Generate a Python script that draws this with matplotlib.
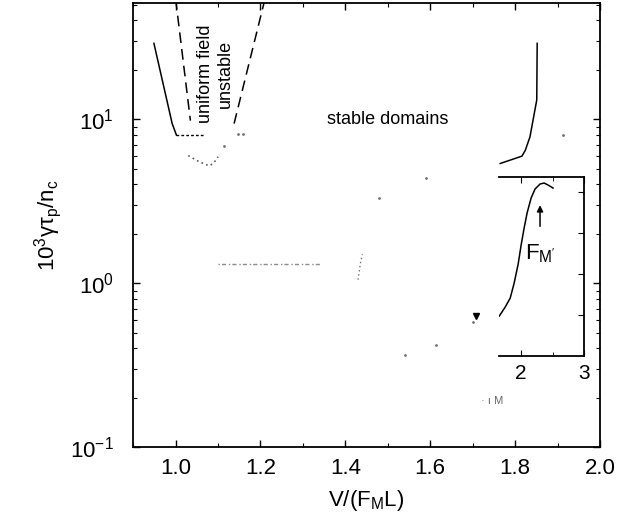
import matplotlib
matplotlib.use("Agg")
import matplotlib.pyplot as plt
from matplotlib.ticker import LogLocator, NullFormatter

plt.rcParams['font.family'] = ['Liberation Sans', 'DejaVu Sans']
plt.rcParams['mathtext.fontset'] = 'custom'
plt.rcParams['mathtext.rm'] = 'Liberation Sans'
plt.rcParams['mathtext.it'] = 'Liberation Sans:italic'
plt.rcParams['axes.unicode_minus'] = False

# main panel curves
left_solid_x = [0.949, 0.992, 1.002]
left_solid_y = [29.0, 9.4, 8.0]
flat_x = [1.002, 1.068]
flat_y = [8.0, 8.0]
dash_left_x = [0.998, 1.035]
dash_left_y = [60.0, 9.8]
dash_right_x = [1.215, 1.137]
dash_right_y = [60.0, 9.2]
right_solid_x = [1.765, 1.816, 1.824, 1.835, 1.851, 1.852]
right_solid_y = [5.37, 5.95, 6.46, 7.8, 13.1, 29.0]

# faded dotted remains of the scan
vee_x = [1.03, 1.05, 1.07, 1.08, 1.09, 1.10]
vee_y = [6.0, 5.6, 5.3, 5.2, 5.4, 5.9]
row_x = [1.10, 1.34]
row_y = [1.3, 1.3]
col_x = [1.43, 1.435, 1.44]
col_y = [1.05, 1.3, 1.5]
specks_x = [1.146, 1.16, 1.115, 1.48, 1.59, 1.541, 1.614, 1.70, 1.913]
specks_y = [8.1, 8.1, 6.9, 3.3, 4.4, 0.364, 0.42, 0.58, 8.0]
dot_x = [1.708]
dot_y = [0.63]

# inset
inset_x = [1.650, 1.745, 1.825, 1.888, 1.952, 1.999, 2.047, 2.094, 2.158,
           2.221, 2.301, 2.364, 2.428, 2.507]
inset_y = [0.976, 1.196, 1.416, 1.782, 2.246, 2.710, 3.125, 3.491, 3.857,
           4.077, 4.199, 4.223, 4.174, 4.101]

fig = plt.figure(figsize=(6.4, 5.23), dpi=100)
ax = fig.add_axes([0.208, 0.145, 0.7295, 0.849])

ax.plot(left_solid_x, left_solid_y, 'k-', lw=1.1)
ax.plot(flat_x, flat_y, color='k', ls=(0, (2, 1.5)), lw=1.0)
ax.plot(dash_left_x, dash_left_y, 'k', ls=(0, (7, 4)), lw=1.1)
ax.plot(dash_right_x, dash_right_y, 'k', ls=(0, (7, 4)), lw=1.1)
ax.plot(right_solid_x, right_solid_y, 'k-', lw=1.1)

ax.plot(vee_x, vee_y, color='0.35', ls=(0, (1, 2)), lw=1.2)
ax.plot(row_x, row_y, color='0.55', ls=(0, (1, 1.5, 3, 2)), lw=1.0)
ax.plot(col_x, col_y, color='0.45', ls=(0, (1, 2)), lw=1.0)
ax.plot(specks_x, specks_y, ls='none', marker='.', ms=2, color='0.45')
ax.plot(dot_x, dot_y, ls='none', marker='v', ms=4, color='k')

ax.set_yscale('log')
ax.set_xlim(0.9, 2.0)
ax.set_ylim(0.1, 51)
ax.set_xticks([1.0, 1.2, 1.4, 1.6, 1.8, 2.0])
ax.set_xticklabels(['1.0', '1.2', '1.4', '1.6', '1.8', '2.0'])
ax.set_xticks([0.9 + 0.1 * i for i in range(12)], minor=True)
ax.yaxis.set_major_locator(LogLocator(base=10, numticks=10))
ax.yaxis.set_minor_locator(LogLocator(base=10, subs=range(2, 10), numticks=10))
ax.yaxis.set_minor_formatter(NullFormatter())
ax.tick_params(which='both', direction='in', top=True, right=True, labelsize=16)
ax.tick_params(which='major', length=5, width=1.0)
ax.tick_params(which='minor', length=3, width=0.8)
ax.tick_params(axis='x', pad=8)
ax.tick_params(axis='y', pad=14)
for s in ax.spines.values():
    s.set_linewidth(1.3)

ax.set_xlabel(r'$\mathregular{V/(F_ML)}$', fontsize=16, labelpad=6)
ax.set_ylabel(r'$\mathregular{10^3γτ_p/n_c}$', fontsize=16, labelpad=4)

ax.text(1.07, 19, 'uniform field', rotation=90, fontsize=13, ha='center', va='center')
ax.text(1.118, 19, 'unstable', rotation=90, fontsize=13, ha='center', va='center')
ax.text(1.5, 10, 'stable domains', fontsize=13, ha='center', va='center')
ax.text(1.72, 0.19, '· ı M', fontsize=8, color='0.4', ha='left', va='center')

ins = fig.add_axes([0.780, 0.319, 0.1325, 0.3426])
ins.plot(inset_x, inset_y, 'k-', lw=1.1)
ins.set_xlim(1.65, 3.0)
ins.set_ylim(0, 4.37)
ins.set_xticks([2, 3])
ins.set_xticks([2.5], minor=True)
ins.set_yticks([1, 2, 3, 4])
ins.spines['left'].set_visible(False)
for s in ['top', 'right', 'bottom']:
    ins.spines[s].set_linewidth(1.3)
ins.tick_params(which='both', direction='in', top=True, right=True, left=False,
                labelleft=False, labelsize=15, pad=6)
ins.tick_params(which='major', length=4)
ins.tick_params(which='minor', length=3)
ins.annotate('', xy=(2.30, 3.75), xytext=(2.30, 3.1),
             arrowprops=dict(arrowstyle='-|>', color='k', lw=1.1, mutation_scale=9))
ins.text(2.30, 2.5, r"$\mathregular{F_{M'}}$", fontsize=16, ha='center', va='center')

fig.savefig('out.png', dpi=100)
